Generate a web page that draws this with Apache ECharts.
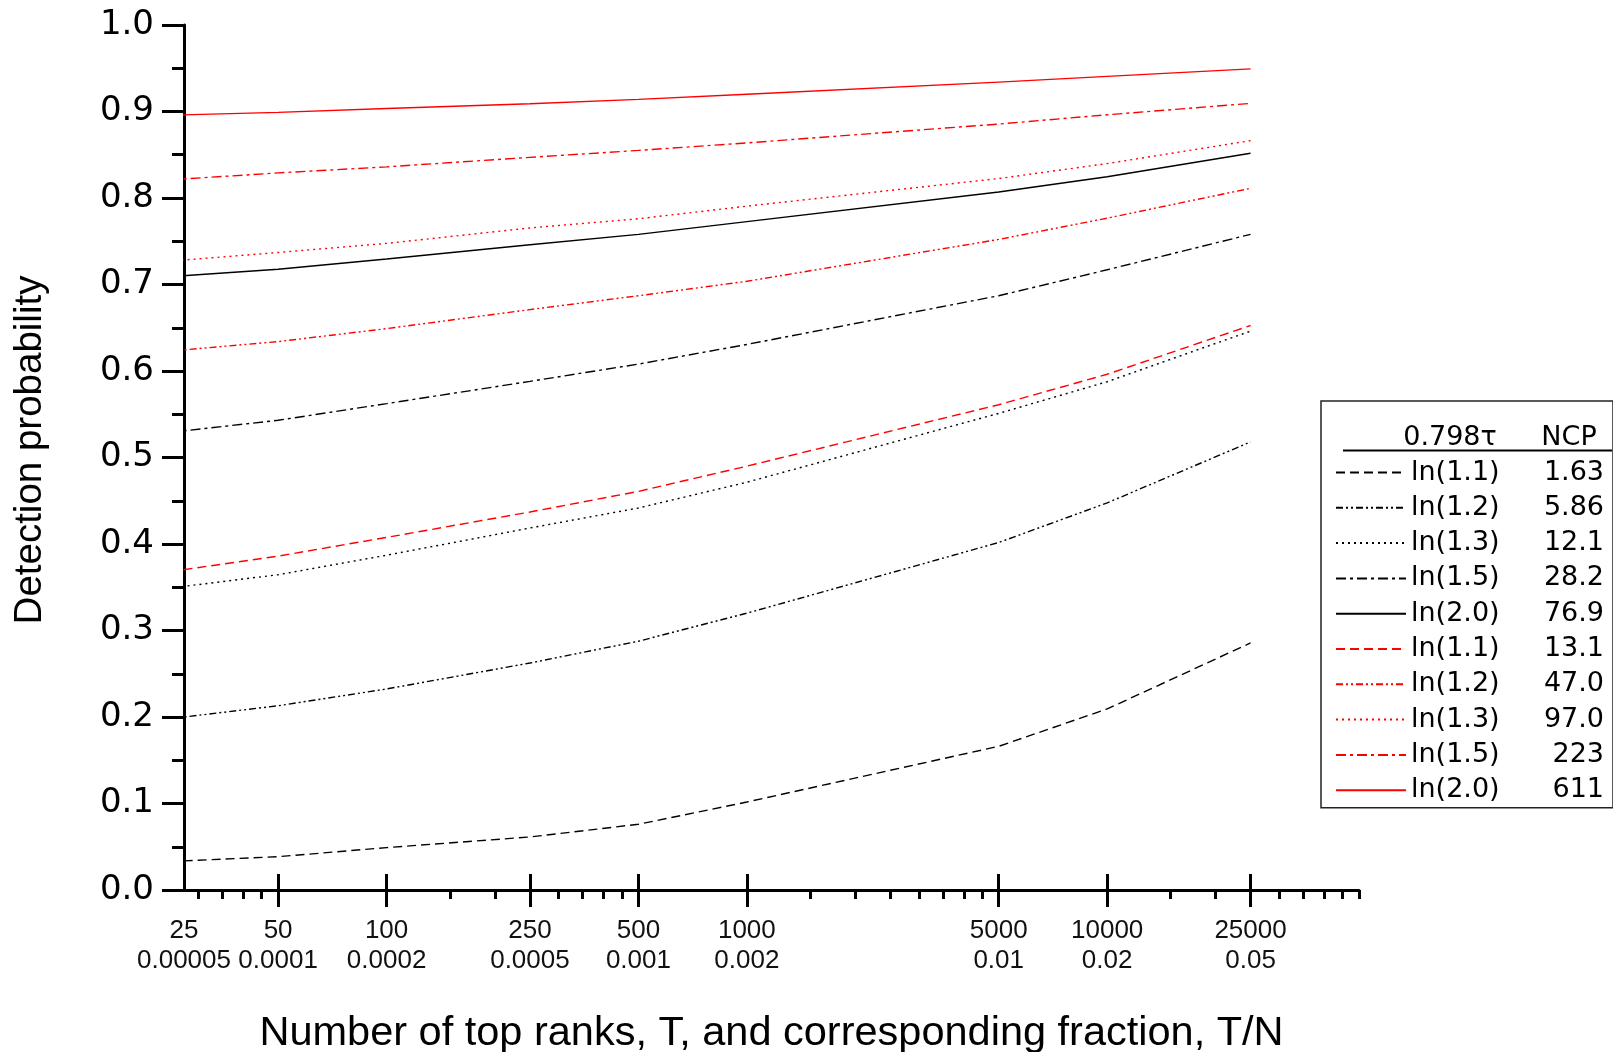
<!DOCTYPE html>
<html>
<head>
<meta charset="utf-8">
<title>Detection probability</title>
<script src="https://cdn.jsdelivr.net/npm/echarts@6/dist/echarts.min.js"></script>
<style>
  html, body { margin: 0; padding: 0; background: #fff; }
  #chart { width: 1613px; height: 1052px; }
</style>
</head>
<body>
<div id="chart"></div>
<script>
// number of top ranks T at which the curves were computed
var tValues = [25, 50, 100, 250, 500, 1000, 5000, 10000, 25000];

// legend columns
var tauLabels = ['ln(1.1)', 'ln(1.2)', 'ln(1.3)', 'ln(1.5)', 'ln(2.0)'];
var ncpBlack = ['1.63', '5.86', '12.1', '28.2', '76.9'];
var ncpRed = ['13.1', '47.0', '97.0', '223', '611'];

// detection probability, black curves
var black11 = [0.033, 0.0385, 0.049, 0.0613, 0.076, 0.1017, 0.1661, 0.2093, 0.2856];
var black12 = [0.198, 0.213, 0.2324, 0.2624, 0.2876, 0.32, 0.4017, 0.4475, 0.518];
var black13 = [0.349, 0.3645, 0.387, 0.4185, 0.4416, 0.4714, 0.551, 0.5876, 0.6461];
var black15 = [0.529, 0.543, 0.5623, 0.588, 0.608, 0.6307, 0.687, 0.717, 0.758];
var black20 = [0.709, 0.7176, 0.7295, 0.746, 0.758, 0.7727, 0.807, 0.8245, 0.8517];

// detection probability, red curves
var red11 = [0.368, 0.386, 0.4076, 0.437, 0.4608, 0.49, 0.561, 0.5962, 0.6526];
var red12 = [0.623, 0.634, 0.649, 0.671, 0.687, 0.7037, 0.7521, 0.7767, 0.8112];
var red13 = [0.727, 0.737, 0.7475, 0.7654, 0.776, 0.7906, 0.8225, 0.8398, 0.8663];
var red15 = [0.821, 0.829, 0.836, 0.847, 0.855, 0.8637, 0.8855, 0.8962, 0.9094];
var red20 = [0.8957, 0.899, 0.9034, 0.909, 0.914, 0.92, 0.934, 0.9406, 0.9493];

// x axis labels: T and T/N
var labelTs = [25, 50, 100, 250, 500, 1000, 5000, 10000, 25000];
var labelFractions = ['0.00005', '0.0001', '0.0002', '0.0005', '0.001', '0.002', '0.01', '0.02', '0.05'];
var majorTicks = [50, 100, 250, 500, 1000, 5000, 10000, 25000];
var minorTicks = [30, 35, 40, 45, 150, 200, 300, 350, 400, 450,
  1500, 2000, 2500, 3000, 3500, 4000, 4500, 15000, 20000, 30000, 35000, 40000, 45000, 50000];

var xMin = 27.4;
var xMax = 50000;

var dashTypes = [[9, 5], [7, 3, 2, 3, 2, 3], [2, 4], [10, 4, 3, 4], 'solid'];

var chartDom = document.getElementById('chart');
var myChart = echarts.init(chartDom);

// first label sits on the y axis
var labelPos = labelTs.map(function (t) { return Math.max(t, xMin); });

function findLabel(value) {
  for (var i = 0; i < labelPos.length; i++) {
    if (Math.abs(value / labelPos[i] - 1) < 0.01) {
      return labelTs[i] + '\n' + labelFractions[i];
    }
  }
  return '';
}

var series = [];
var legendNames = [];
function addSet(sets, ncps, color) {
  for (var i = 0; i < sets.length; i++) {
    var pts = [];
    for (var j = 0; j < tValues.length; j++) {
      pts.push([tValues[j], sets[i][j]]);
    }
    var name = tauLabels[i] + ' ' + ncps[i];
    legendNames.push(name);
    series.push({
      name: name,
      type: 'line',
      xAxisIndex: 0,
      yAxisIndex: 0,
      symbol: 'none',
      clip: true,
      animation: false,
      itemStyle: { color: color },
      lineStyle: { color: color, width: 1.4, type: dashTypes[i] },
      data: pts
    });
  }
}
addSet([black11, black12, black13, black15, black20], ncpBlack, '#000000');
addSet([red11, red12, red13, red15, red20], ncpRed, '#ff0000');

var baseX = {
  type: 'log',
  logBase: 10,
  min: xMin,
  max: xMax,
  position: 'bottom',
  offset: 0,
  gridIndex: 0,
  splitLine: { show: false },
  minorTick: { show: false },
  minorSplitLine: { show: false }
};

var legendFont = { fontFamily: 'DejaVu Sans', fontSize: 27, lineHeight: 30, color: '#000' };

myChart.setOption({
  backgroundColor: '#ffffff',
  animation: false,
  grid: {
    left: 184,
    right: 254,
    top: 25,
    bottom: 162,
    containLabel: false,
    outerBoundsMode: 'none'
  },
  xAxis: [
    Object.assign({}, baseX, {
      name: 'Number of top ranks, T, and corresponding fraction, T/N',
      nameLocation: 'middle',
      nameGap: 123,
      nameTextStyle: {
        fontFamily: 'Liberation Sans',
        fontSize: 41.5,
        color: '#000'
      },
      axisLine: { show: true, onZero: false, lineStyle: { color: '#000', width: 3 } },
      axisTick: {
        show: true,
        inside: false,
        length: 17,
        customValues: majorTicks,
        lineStyle: { color: '#000', width: 3 }
      },
      axisLabel: {
        show: true,
        customValues: labelPos,
        margin: 26,
        fontFamily: 'Liberation Sans',
        fontSize: 26,
        lineHeight: 30,
        color: '#111',
        formatter: function (v) { return findLabel(v); }
      }
    }),
    Object.assign({}, baseX, {
      axisLine: { show: false },
      axisTick: {
        show: true,
        inside: true,
        length: 16,
        customValues: majorTicks,
        lineStyle: { color: '#000', width: 3 }
      },
      axisLabel: { show: false }
    }),
    Object.assign({}, baseX, {
      axisLine: { show: false },
      axisTick: {
        show: true,
        inside: false,
        length: 9,
        customValues: minorTicks,
        lineStyle: { color: '#000', width: 3 }
      },
      axisLabel: { show: false }
    })
  ],
  yAxis: {
    type: 'value',
    min: 0,
    max: 1,
    interval: 0.1,
    name: 'Detection probability',
    nameLocation: 'middle',
    nameGap: 134,
    nameTextStyle: {
      fontFamily: 'Liberation Sans',
      fontSize: 38.5,
      color: '#000',
      padding: [0, 0, 0, 15]
    },
    axisLine: { show: true, onZero: false, lineStyle: { color: '#000', width: 3 } },
    axisTick: { show: true, inside: false, length: 22, lineStyle: { color: '#000', width: 3 } },
    minorTick: { show: true, splitNumber: 2, length: 12, lineStyle: { color: '#000', width: 3 } },
    splitLine: { show: false },
    minorSplitLine: { show: false },
    axisLabel: {
      margin: 30,
      fontFamily: 'DejaVu Sans',
      fontSize: 34,
      color: '#000',
      formatter: function (v) { return v.toFixed(1); }
    }
  },
  legend: {
    show: true,
    orient: 'vertical',
    left: 1321,
    top: 401,
    padding: [58, 9, 4, 14],
    itemWidth: 70,
    itemHeight: 30,
    itemGap: 8.3,
    borderColor: '#222',
    borderWidth: 1.5,
    selectedMode: false,
    itemStyle: { opacity: 0 },
    data: legendNames,
    formatter: function (name) {
      var parts = name.split(' ');
      return '{a|' + parts[0] + '}{b|' + parts[1] + '}';
    },
    textStyle: {
      rich: {
        a: Object.assign({ width: 110, align: 'left' }, legendFont),
        b: Object.assign({ width: 83, align: 'right' }, legendFont)
      }
    }
  },
  graphic: [
    {
      type: 'text',
      z: 100,
      x: 1450,
      y: 438,
      style: {
        text: '0.798\u03c4',
        fontFamily: 'DejaVu Sans',
        fontSize: 27,
        fill: '#000',
        align: 'center',
        verticalAlign: 'middle'
      }
    },
    {
      type: 'text',
      z: 100,
      x: 1569,
      y: 438,
      style: {
        text: 'NCP',
        fontFamily: 'DejaVu Sans',
        fontSize: 27,
        fill: '#000',
        align: 'center',
        verticalAlign: 'middle'
      }
    },
    {
      type: 'line',
      z: 100,
      shape: { x1: 1343, y1: 450.5, x2: 1612, y2: 450.5 },
      style: { stroke: '#000', lineWidth: 2 }
    }
  ],
  series: series
});
</script>
</body>
</html>
